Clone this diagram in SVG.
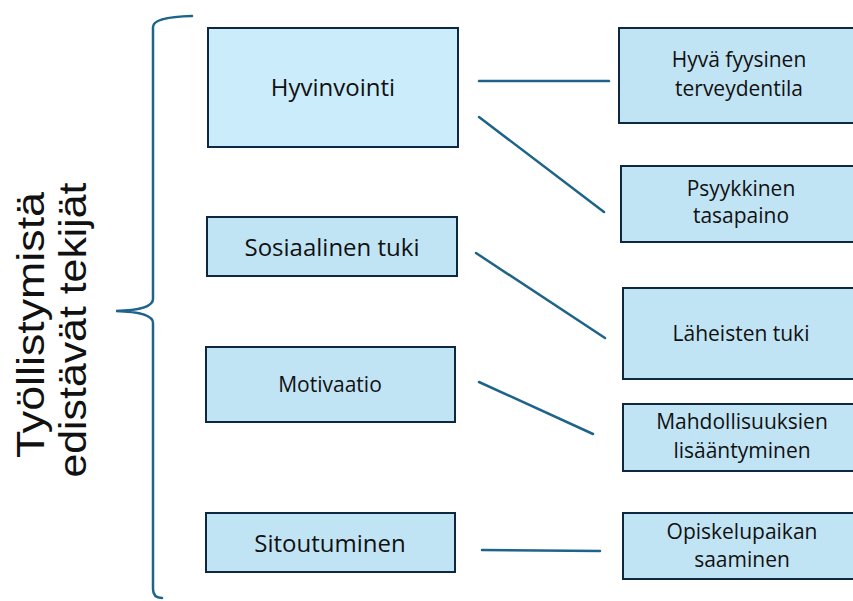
<svg xmlns="http://www.w3.org/2000/svg" width="853" height="601" viewBox="0 0 853 601">
<style>
.box{fill:#C1E4F5;stroke:#0E2841;stroke-width:2}
.light{fill:#CBECFB}
.t{font-family:"Open Sans","Noto Sans",sans-serif;fill:#111;text-anchor:middle}
.big{font-size:24px}
.sm{font-size:21px}
.conn{stroke:#1E6389;stroke-width:2.5;fill:none;stroke-linecap:round}
.side{font-family:"Liberation Sans",Arial,sans-serif;font-size:39px;fill:#111;text-anchor:middle}
</style>
<rect width="853" height="601" fill="#fff"/>
<g id="label">
<text class="side" transform="translate(44,325) rotate(-90)" textLength="266" lengthAdjust="spacingAndGlyphs">Työllistymistä</text>
<text class="side" transform="translate(86,330) rotate(-90)" textLength="295" lengthAdjust="spacingAndGlyphs">edistävät tekijät</text>
</g>
<g id="brace">
<path class="conn" d="M192,16 Q153,17 153,27 L153,299 Q153,310 116,311 Q153,312 153,323 L153,589 Q153,598 162,598"/>
</g>
<g id="connectors">
<line class="conn" x1="479" y1="81" x2="609" y2="81"/>
<line class="conn" x1="479" y1="117" x2="604" y2="212"/>
<line class="conn" x1="476" y1="253" x2="605" y2="338"/>
<line class="conn" x1="479" y1="382" x2="593" y2="434"/>
<line class="conn" x1="482" y1="550" x2="600" y2="551"/>
</g>
<g id="hyvinvointi">
<rect class="box light" x="208" y="28" width="250" height="119"/>
<text class="t big" x="333" y="96">Hyvinvointi</text>
</g>
<g id="sosiaalinen">
<rect class="box" x="207" y="217" width="250" height="59"/>
<text class="t big" x="332" y="256">Sosiaalinen tuki</text>
</g>
<g id="motivaatio">
<rect class="box" x="206" y="347" width="249" height="75"/>
<text class="t sm" x="330" y="392">Motivaatio</text>
</g>
<g id="sitoutuminen">
<rect class="box" x="206" y="513" width="249" height="59"/>
<text class="t big" x="330" y="552">Sitoutuminen</text>
</g>
<g id="hyva">
<rect class="box" x="619" y="28" width="245" height="95"/>
<text class="t sm" x="739" y="67">Hyvä fyysinen</text>
<text class="t sm" x="739" y="96">terveydentila</text>
</g>
<g id="psyykkinen">
<rect class="box" x="621" y="166" width="245" height="76"/>
<text class="t sm" x="741" y="196">Psyykkinen</text>
<text class="t sm" x="741" y="223">tasapaino</text>
</g>
<g id="laheisten">
<rect class="box" x="623" y="288" width="245" height="91"/>
<text class="t sm" x="741" y="341">Läheisten tuki</text>
</g>
<g id="mahdollisuuksien">
<rect class="box" x="623" y="404" width="245" height="67"/>
<text class="t sm" x="742" y="429">Mahdollisuuksien</text>
<text class="t sm" x="742" y="458">lisääntyminen</text>
</g>
<g id="opiskelupaikan">
<rect class="box" x="623" y="513" width="245" height="66"/>
<text class="t sm" x="742" y="539">Opiskelupaikan</text>
<text class="t sm" x="742" y="567">saaminen</text>
</g>
</svg>
